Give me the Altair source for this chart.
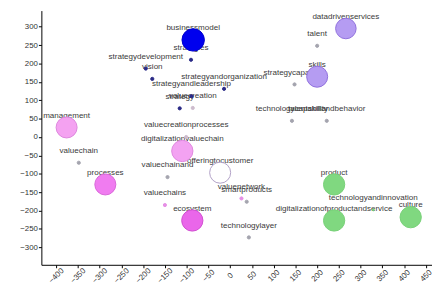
import altair as alt
import pandas as pd

# ---- data ----
terms = [
    "businessmodel", "strategies", "strategydevelopment", "vision",
    "strategyandorganization", "strategyandleadership", "strategy",
    "valuecreation", "valuecreationprocesses",
    "datadrivenservices", "talent", "skills", "strategycapability",
    "technologycapability", "talentskillandbehavior",
    "management", "valuechain", "processes", "digitalizationvaluechain",
    "valuechainand", "offeringtocustomer", "valuechains", "ecosystem",
    "valuenetwork", "smartproducts", "technologylayer",
    "product", "digitalizationofproductandservice",
    "technologyandinnovation", "culture",
]
xs = [
    -85, -90, -194, -179,
    -14, -89, -116,
    -86, -101,
    266, 200, 200, 148,
    142, 222,
    -376, -348, -287, -110,
    -144, -23, -150, -87,
    26, 38, 43,
    239, 239,
    329, 415,
]
ys = [
    264, 210, 186, 158,
    131, 111, 78,
    79, 0,
    295, 248, 164, 143,
    44, 44,
    26, -70, -129, -38,
    -109, -97, -185, -227,
    -167, -176, -273,
    -129, -227,
    -198, -218,
]
weights = [
    50, 1, 1, 1,
    1, 1, 1,
    1, 1,
    42, 1, 44, 1,
    1, 1,
    44, 1, 44, 45,
    1, 44, 1, 45,
    1, 1, 1,
    45, 45,
    0.4, 45,
]
clusters = [
    "strategy hub", "strategy term", "strategy term", "strategy term",
    "strategy term", "strategy term", "strategy term",
    "value term", "value term",
    "capability hub", "grey term", "capability hub", "grey term",
    "grey term", "grey term",
    "management", "grey term", "processes", "valuechain hub",
    "grey term", "customer hub", "pink term", "ecosystem",
    "pink term", "grey term", "grey term",
    "technology hub", "technology hub",
    "technology hub", "technology hub",
]

x_ticks = list(range(-400, 451, 50))
y_ticks = list(range(-300, 301, 50))

# ---- styles ----
cluster_domain = ["strategy hub", "strategy term", "value term", "capability hub",
                  "grey term", "management", "processes", "valuechain hub",
                  "customer hub", "pink term", "ecosystem", "technology hub"]
fill_range = ["#0000ee", "#2a2a86", "#cdbccd", "#b59cf2",
              "#a4a4ae", "#f4a2f1", "#f07cf0", "#f3a2f2",
              "#ffffff", "#e690e6", "#ea66ea", "#80d880"]
stroke_range = ["#0000cc", "#2a2a86", "#cdbccd", "#9070dc",
                "#a4a4ae", "#dc86dc", "#d866d8", "#de88de",
                "#b0a0c6", "#e690e6", "#d050d0", "#78d078"]
opacity_range = [1, 1, 1, 0.85, 1, 0.85, 0.85, 0.85, 0.85, 1, 0.88, 0.88]

df = pd.DataFrame(dict(term=terms, x=xs, y=ys, weight=weights, cluster=clusters))

FONT = "Liberation Sans"
xscale = alt.Scale(domain=[-434, 464], nice=False, zero=False)
yscale = alt.Scale(domain=[-347.5, 343.7], nice=False, zero=False)

xaxis = alt.Axis(values=x_ticks, title=None, grid=False, labelAngle=315,
                 labelAlign="center", labelBaseline="middle", labelPadding=8,
                 tickSize=3, labelFlush=False, labelOverlap=False)
yaxis = alt.Axis(values=y_ticks, title=None, grid=False, tickSize=3,
                 labelPadding=1, labelFlush=False, labelOverlap=False)

base = alt.Chart(df)

text = base.mark_text(font=FONT, fontSize=8.2, color="#3a3a3a", dy=-12,
                      baseline="middle", align="center").encode(
    x=alt.X("x:Q", scale=xscale, axis=xaxis),
    y=alt.Y("y:Q", scale=yscale, axis=yaxis),
    text="term:N",
)

dots = base.mark_circle(strokeWidth=1).encode(
    x=alt.X("x:Q", scale=xscale, axis=xaxis),
    y=alt.Y("y:Q", scale=yscale, axis=yaxis),
    size=alt.Size("weight:Q", scale=alt.Scale(domain=[0, 46], range=[0, 480]), legend=None),
    color=alt.Color("cluster:N", scale=alt.Scale(domain=cluster_domain, range=fill_range), legend=None),
    stroke=alt.Stroke("cluster:N", scale=alt.Scale(domain=cluster_domain, range=stroke_range), legend=None),
    opacity=alt.Opacity("cluster:N", scale=alt.Scale(domain=cluster_domain, range=opacity_range), legend=None),
)

chart = alt.layer(text, dots).properties(
    width=398, height=259,
    autosize=alt.AutoSizeParams(type="none"),
    padding={"left": 34, "top": 0, "right": 0, "bottom": 22},
).configure_view(stroke=None).configure_axis(
    domainColor="#000000", tickColor="#000000", labelColor="#333333",
    labelFont=FONT, labelFontSize=8,
)

chart.save("out.html", embed_options={"renderer": "svg", "actions": False})
